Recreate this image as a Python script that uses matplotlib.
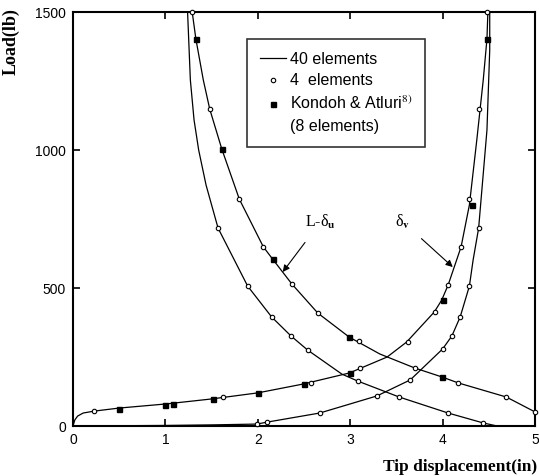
import matplotlib
matplotlib.use("Agg")
import matplotlib.pyplot as plt
from matplotlib.lines import Line2D

# 40 element solution curves
du_outer_x = [1.29, 1.33, 1.41, 1.48, 1.61, 1.80, 2.06, 2.16, 2.37, 2.65, 2.99, 3.32, 3.70, 3.99, 4.17, 4.69, 5.0]
du_outer_y = [1500, 1402, 1254, 1148, 1004, 822, 649, 605, 514, 409, 322, 261, 210, 178, 156, 105, 51]

du_inner_x = [1.24, 1.27, 1.31, 1.36, 1.44, 1.57, 1.89, 2.15, 2.36, 2.54, 2.91, 3.08, 3.53, 4.06, 4.44, 4.59]
du_inner_y = [1500, 1254, 1109, 1000, 873, 717, 507, 395, 326, 275, 188, 163, 105, 47, 11, 0]

dv_outer_x = [0, 0.02, 0.05, 0.11, 0.23, 0.50, 1.01, 1.50, 2.0, 2.49, 2.99, 3.40, 3.61, 3.91, 3.99, 4.06, 4.20, 4.29, 4.37, 4.44, 4.48, 4.49]
dv_outer_y = [0, 22, 36, 47, 54, 65, 80, 98, 120, 152, 192, 250, 304, 413, 456, 511, 649, 801, 1036, 1254, 1402, 1500]

dv_inner_x = [0, 1.0, 1.5, 1.99, 2.10, 2.67, 3.29, 3.65, 4.0, 4.10, 4.19, 4.29, 4.33, 4.39, 4.48, 4.51, 4.51]
dv_inner_y = [0, 2, 4, 7, 14, 47, 109, 167, 279, 326, 395, 507, 601, 717, 1072, 1362, 1500]

# 4 element results
four_x = [1.29, 1.48, 1.80, 2.06, 2.37, 2.65, 3.10, 3.70, 4.17, 4.69, 5.0,
          1.57, 1.89, 2.15, 2.36, 2.54, 3.08, 3.53, 4.06, 4.44,
          0.23, 1.62, 2.58, 3.11, 3.63, 3.92, 4.06, 4.20, 4.29, 4.39, 4.48,
          1.99, 2.10, 2.67, 3.29, 3.65, 4.0, 4.10, 4.19, 4.29, 4.39]
four_y = [1500, 1148, 822, 649, 514, 409, 308, 210, 156, 105, 51,
          717, 507, 395, 326, 275, 163, 105, 47, 11,
          54, 105, 156, 210, 304, 413, 511, 649, 822, 1148, 1500,
          7, 14, 47, 109, 167, 279, 326, 395, 507, 717]

# Kondoh & Atluri (8 elements)
ka_x = [1.33, 1.61, 2.16, 2.99, 3.99,
        0.50, 1.0, 1.08, 1.51, 2.0, 2.5, 3.0, 4.0, 4.32, 4.48]
ka_y = [1402, 1004, 605, 322, 178,
        62, 76, 80, 98, 120, 152, 192, 456, 800, 1402]

plt.rcParams["mathtext.fontset"] = "stix"

fig = plt.figure(figsize=(5.39, 4.76), dpi=100)
ax = fig.add_axes([73 / 539, 50 / 476, 462 / 539, 414 / 476])

for cx, cy in [(du_outer_x, du_outer_y), (du_inner_x, du_inner_y),
               (dv_outer_x, dv_outer_y), (dv_inner_x, dv_inner_y)]:
    ax.plot(cx, cy, color="black", lw=0.9, clip_on=False)

ax.plot(four_x, four_y, "o", ms=3.2, mfc="white", mec="black", mew=0.8, clip_on=False, zorder=3)
ax.plot(ka_x, ka_y, "s", ms=3.6, mfc="black", mec="black", clip_on=False, zorder=3)

ax.set_xlim(0, 5)
ax.set_ylim(0, 1500)
ax.set_xticks([0, 1, 2, 3, 4, 5])
ax.set_yticks([0, 500, 1000, 1500])
ax.tick_params(direction="in", length=5, width=1.2, top=True, right=True,
               labelsize=10, pad=5)
for lab in ax.get_xticklabels() + ax.get_yticklabels():
    lab.set_fontfamily("Liberation Sans")
for s in ax.spines.values():
    s.set_linewidth(1.5)

ax.text(-0.135, 1.01, "Load(lb)", transform=ax.transAxes, rotation=90,
        ha="center", va="top", fontsize=13, fontweight="bold", family="Liberation Serif")
ax.text(1.005, -0.1, "Tip displacement(in)", transform=ax.transAxes,
        ha="right", va="center", fontsize=12.5, fontweight="bold", family="Liberation Serif")

ax.annotate("L-δ$_\\mathbf{u}$", xy=(2.27, 558), xytext=(2.68, 740),
            ha="center", va="center", fontsize=11.5, family="Liberation Serif",
            arrowprops=dict(arrowstyle="-|>", color="black", lw=0.8, mutation_scale=10,
                            shrinkA=8, shrinkB=0))
ax.annotate("δ$_\\mathbf{v}$", xy=(4.11, 576), xytext=(3.57, 740),
            ha="center", va="center", fontsize=11.5, family="Liberation Serif",
            arrowprops=dict(arrowstyle="-|>", color="black", lw=0.8, mutation_scale=10,
                            shrinkA=8, shrinkB=0))

handles = [Line2D([], [], color="black", lw=0.9),
           Line2D([], [], ls="", marker="o", ms=3.2, mfc="white", mec="black", mew=0.8),
           Line2D([], [], ls="", marker="s", ms=3.6, mfc="black", mec="black"),
           Line2D([], [], ls="", marker="")]
labels = ["40 elements", "4  elements", "Kondoh & Atluri$^{8)}$", "(8 elements)"]
leg = ax.legend(handles, labels, loc="upper left", bbox_to_anchor=(0.377, 0.935),
                frameon=True, fancybox=False, edgecolor="black", handlelength=1.6,
                handletextpad=0.3, borderpad=0.8, labelspacing=0.42, borderaxespad=0,
                prop={"family": "Liberation Sans", "size": 11.5})
leg.get_frame().set_linewidth(1.2)

fig.savefig("out.png", dpi=100)
